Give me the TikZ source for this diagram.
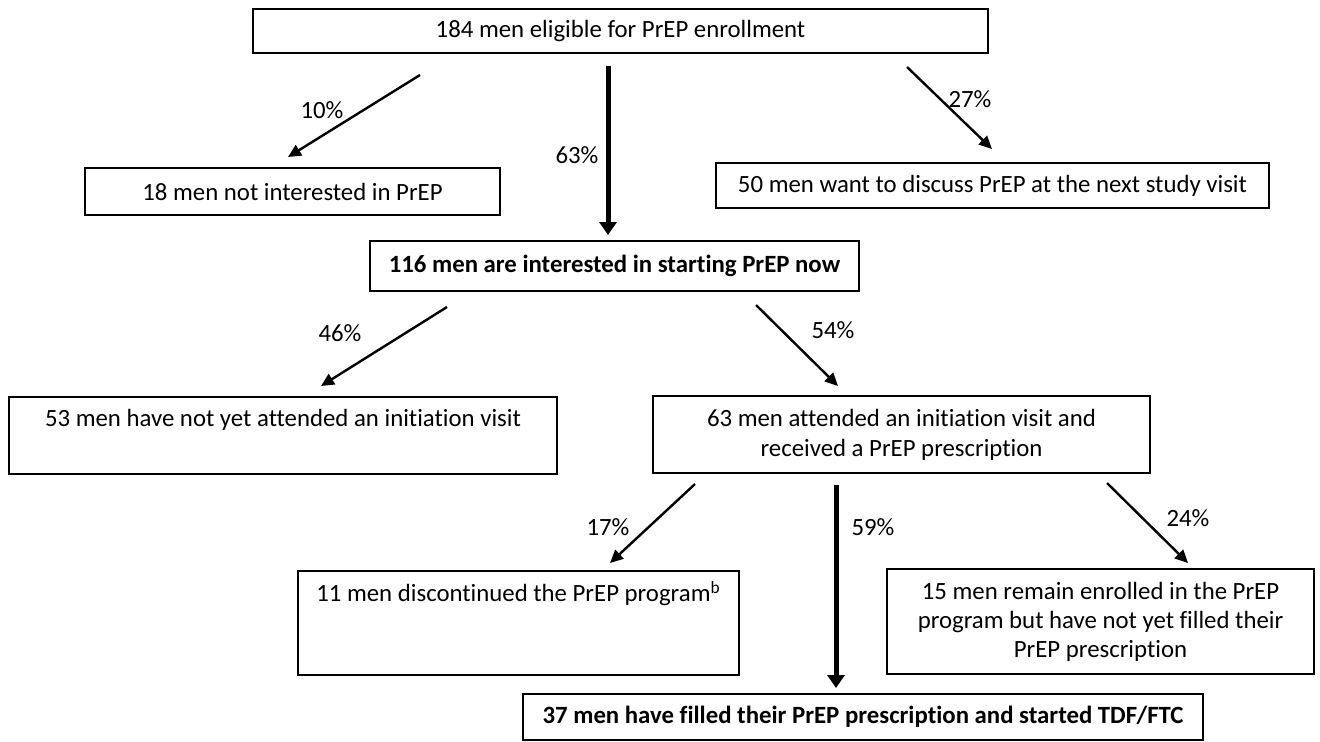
\documentclass[tikz,border=0pt]{standalone}
\usepackage{fontspec}
\setmainfont[Ligatures=NoCommon]{Carlito}
\usetikzlibrary{arrows.meta}
\tikzset{
  box/.style = {draw, line width=0.9pt, align=center, inner sep=0pt, font=\fontsize{12.4}{15}\selectfont},
  topbox/.style = {box, anchor=north},
  flow/.style = {line width=1.2pt, -{Triangle[length=6.5pt,width=6pt]}},
  mainflow/.style = {line width=2.5pt, -{Triangle[length=6.5pt,width=8.5pt]}},
  pct/.style = {font=\fontsize{12.4}{15}\selectfont}
}
\begin{document}
\begin{tikzpicture}[x=0.5pt, y=-0.5pt]
\useasboundingbox (0,0) rectangle (1320,741);
% Boxes
%-----------------------------------------------------------%
% eligible
  \node[box, minimum width=367.5pt, minimum height=22pt] (eligible) at (620.5,31) {184 men eligible for PrEP enrollment};
% first level
  \node[box, minimum width=207.5pt, minimum height=23.5pt] (notint) at (292.5,191.5) {18 men not interested in PrEP};
  \node[box, minimum width=276.5pt, minimum height=22.5pt] (nextvisit) at (992.5,185.5) {50 men want to discuss PrEP at the next study visit};
  \node[box, minimum width=244.5pt, minimum height=25pt] (intnow) at (614.5,266) {\bfseries 116 men are interested in starting PrEP now};
% second level
  \node[topbox, minimum width=274pt, text height=15pt, text depth=23.5pt] (notyet) at (283,396) {53 men have not yet attended an initiation visit};
  \node[box, minimum width=248.5pt, minimum height=38.5pt] (attended) at (901.5,434.5) {63 men attended an initiation visit and\\ received a PrEP prescription};
% third level
  \node[topbox, minimum width=220.5pt, text height=15.5pt, text depth=36.5pt] (discont) at (518.5,570) {11 men discontinued the PrEP program\textsuperscript{b}};
  \node[box, minimum width=213.5pt, minimum height=52.5pt] (remain) at (1100.5,621.5) {15 men remain enrolled in the PrEP\\[-0.5pt] program but have not yet filled their\\[-0.5pt] PrEP prescription};
  \node[box, minimum width=340pt, minimum height=23pt] (filled) at (863,717) {\bfseries 37 men have filled their PrEP prescription and started TDF/FTC};
%-----------------------------------------------------------%
% arrow ends
  \coordinate (s10) at (420,75);   \coordinate (e10) at (288,157);
  \coordinate (s63) at (608,66);   \coordinate (e63) at (608,235);
  \coordinate (s27) at (907,67);   \coordinate (e27) at (992,149);
  \coordinate (s46) at (447,307);  \coordinate (e46) at (321,386);
  \coordinate (s54) at (756,305);  \coordinate (e54) at (838,386);
  \coordinate (s17) at (695,484);  \coordinate (e17) at (610,563);
  \coordinate (s59) at (836,485);  \coordinate (e59) at (836,688);
  \coordinate (s24) at (1107,483); \coordinate (e24) at (1188,563);
% thin arrows
  \foreach \x in {10,27,46,54,17,24}
    {\draw[flow] (s\x) -- (e\x);}
% thick arrows
  \foreach \x in {63,59}
    {\draw[mainflow] (s\x) -- (e\x);}
% percentages
  \node[pct] (p10) at (322,110) {10\%};
  \node[pct] (p63) at (577,155) {63\%};
  \node[pct] (p27) at (970,99) {27\%};
  \node[pct] (p46) at (340,333) {46\%};
  \node[pct] (p54) at (833,330) {54\%};
  \node[pct] (p17) at (608,527) {17\%};
  \node[pct] (p59) at (873,527) {59\%};
  \node[pct] (p24) at (1188,518) {24\%};
\end{tikzpicture}
\end{document}
